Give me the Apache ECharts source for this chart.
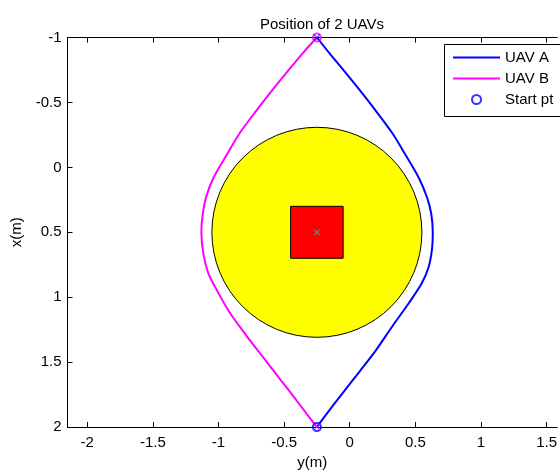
<!DOCTYPE html>
<html>
<head>
<meta charset="utf-8">
<script src="https://cdn.jsdelivr.net/npm/echarts@6/dist/echarts.min.js"></script>
<style>
    html, body { margin: 0; padding: 0; background: #fff; }
    #main { width: 560px; height: 475px; }
</style>
</head>
<body>
<div id="main"></div>
<script>
    // tick labels
    var xTicks = [-2, -1.5, -1, -0.5, 0, 0.5, 1, 1.5];

    // UAV A path: [y, x]
    var uavA = [
        [-0.25, 2], [-0.18, 1.904], [-0.055, 1.74], [0.072, 1.576], [0.198, 1.411],
        [0.324, 1.225], [0.451, 1.044], [0.548, 0.895], [0.602, 0.765], [0.627, 0.63],
        [0.633, 0.5], [0.622, 0.361], [0.59, 0.234], [0.527, 0.082],
        [0.426, -0.095], [0.324, -0.265], [0.198, -0.437], [0.072, -0.6],
        [-0.055, -0.758], [-0.155, -0.88], [-0.25, -1]
    ];
    // UAV B path: [y, x]
    var uavB = [
        [-0.25, -1], [-0.357, -0.88], [-0.458, -0.758], [-0.585, -0.6], [-0.711, -0.437],
        [-0.837, -0.265], [-0.938, -0.095], [-1.039, 0.082], [-1.095, 0.234], [-1.12, 0.361],
        [-1.13, 0.5], [-1.115, 0.664], [-1.077, 0.816], [-1.014, 0.942],
        [-0.913, 1.12], [-0.786, 1.297], [-0.66, 1.462], [-0.534, 1.626], [-0.408, 1.79],
        [-0.294, 1.943], [-0.25, 2]
    ];
    var startA = [-0.25, 2];
    var startB = [-0.25, -1];
    var endA = [-0.25, -1];
    var endB = [-0.25, 2];

    // obstacle and target
    var obstacleCenter = [-0.25, 0.5];
    var obstacleRadius = 0.8;
    var targetBox = [-0.45, 0.3, -0.05, 0.7];
    var targetCenter = [-0.25, 0.5];

    var crossPath = 'path://M0,1L1,0L5,4L9,0L10,1L6,5L10,9L9,10L5,6L1,10L0,9L4,5Z';
    var lineIcon = 'path://M0,0H47V2H0Z';
    var font = 'Liberation Sans, Arial, sans-serif';

    var chart = echarts.init(document.getElementById('main'));

    var option = {
        animation: false,
        backgroundColor: '#fff',
        title: {
            text: 'Position of 2 UAVs',
            left: 255,
            top: 12,
            textStyle: { fontFamily: font, fontSize: 15, fontWeight: 'normal', color: '#000' }
        },
        // 图例边框 (超出画布)
        graphic: [{
            type: 'rect',
            left: 444,
            top: 44,
            z: 90,
            shape: { width: 140, height: 72 },
            style: { fill: '#fff', stroke: '#000', lineWidth: 1 }
        }],
        legend: {
            data: [
                { name: 'UAV A', icon: lineIcon },
                { name: 'UAV B', icon: lineIcon },
                { name: 'Start pt', icon: 'circle', itemStyle: { color: '#fff', borderColor: '#0000ff', borderWidth: 2 } }
            ],
            orient: 'vertical',
            left: 444,
            top: 44,
            z: 100,
            padding: [6, 4, 8, 9],
            itemWidth: 47,
            itemHeight: 9,
            itemGap: 6,
            borderWidth: 0,
            selectedMode: false,
            textStyle: { fontFamily: font, fontSize: 15, color: '#000', lineHeight: 15 }
        },
        grid: {
            left: 67.5,
            right: 0,
            top: 37.5,
            bottom: 42.5,
            containLabel: false
        },
        xAxis: [{
            type: 'value',
            min: -2.15,
            max: 1.581,
            position: 'bottom',
            name: 'y(m)',
            nameLocation: 'middle',
            nameGap: 25,
            nameTextStyle: { fontFamily: font, fontSize: 15, color: '#000' },
            axisLine: { onZero: false, lineStyle: { color: '#000', width: 1 } },
            axisTick: { inside: true, length: 5, customValues: xTicks, lineStyle: { color: '#000' } },
            axisLabel: {
                customValues: xTicks, margin: 8,
                fontFamily: font, fontSize: 15, color: '#000'
            },
            splitLine: { show: false }
        }, {
            type: 'value',
            min: -2.15,
            max: 1.581,
            position: 'top',
            axisLine: { onZero: false, lineStyle: { color: '#000', width: 1 } },
            axisTick: { inside: true, length: 5, customValues: xTicks, lineStyle: { color: '#000' } },
            axisLabel: { show: false },
            splitLine: { show: false }
        }],
        yAxis: {
            type: 'value',
            inverse: true,
            min: -1,
            max: 2,
            interval: 0.5,
            name: 'x(m)',
            nameLocation: 'middle',
            nameGap: 39,
            nameTextStyle: { fontFamily: font, fontSize: 15, color: '#000' },
            axisLine: { show: true, onZero: false, lineStyle: { color: '#000', width: 1 } },
            axisTick: { show: true, inside: true, length: 5, lineStyle: { color: '#000' } },
            axisLabel: { margin: 6, fontFamily: font, fontSize: 15, color: '#000' },
            splitLine: { show: false }
        },
        series: [
            {
                // 障碍圆
                type: 'custom',
                silent: true,
                z: 1,
                data: [obstacleCenter],
                renderItem: function (params, api) {
                    var c = api.coord([api.value(0), api.value(1)]);
                    var r = api.size([obstacleRadius, 0])[0];
                    return {
                        type: 'circle',
                        shape: { cx: c[0], cy: c[1], r: r },
                        style: { fill: '#ffff00', stroke: '#000', lineWidth: 1 }
                    };
                }
            },
            {
                // 目标方块
                type: 'custom',
                silent: true,
                z: 2,
                data: [targetBox],
                renderItem: function (params, api) {
                    var p1 = api.coord([api.value(0), api.value(1)]);
                    var p2 = api.coord([api.value(2), api.value(3)]);
                    return {
                        type: 'rect',
                        shape: {
                            x: Math.min(p1[0], p2[0]),
                            y: Math.min(p1[1], p2[1]),
                            width: Math.abs(p2[0] - p1[0]),
                            height: Math.abs(p2[1] - p1[1])
                        },
                        style: { fill: '#ff0000', stroke: '#000', lineWidth: 1 }
                    };
                }
            },
            {
                type: 'scatter',
                silent: true,
                z: 3,
                data: [targetCenter],
                symbol: crossPath,
                symbolSize: 6,
                itemStyle: { color: '#22cccc' }
            },
            {
                name: 'UAV A',
                type: 'line',
                z: 4,
                data: uavA,
                smooth: 0.3,
                symbol: 'none',
                color: '#0000ff',
                lineStyle: { color: '#0000ff', width: 2 }
            },
            {
                name: 'UAV B',
                type: 'line',
                z: 4,
                data: uavB,
                smooth: 0.3,
                symbol: 'none',
                color: '#ff00ff',
                lineStyle: { color: '#ff00ff', width: 2 }
            },
            {
                name: 'Start pt',
                type: 'scatter',
                z: 5,
                symbol: 'circle',
                symbolSize: 8,
                color: '#0000ff',
                itemStyle: { color: 'rgba(0,0,0,0)', borderColor: '#0000ff', borderWidth: 2 },
                data: [
                    { value: startA },
                    { value: startB, itemStyle: { color: 'rgba(0,0,0,0)', borderColor: '#ff00ff', borderWidth: 2 } }
                ]
            },
            {
                type: 'scatter',
                z: 6,
                symbol: crossPath,
                symbolSize: 7,
                data: [
                    { value: endA, itemStyle: { color: '#0000ff' } },
                    { value: endB, itemStyle: { color: '#ff00ff' } }
                ]
            }
        ]
    };
    chart.setOption(option);
</script>
</body>
</html>
